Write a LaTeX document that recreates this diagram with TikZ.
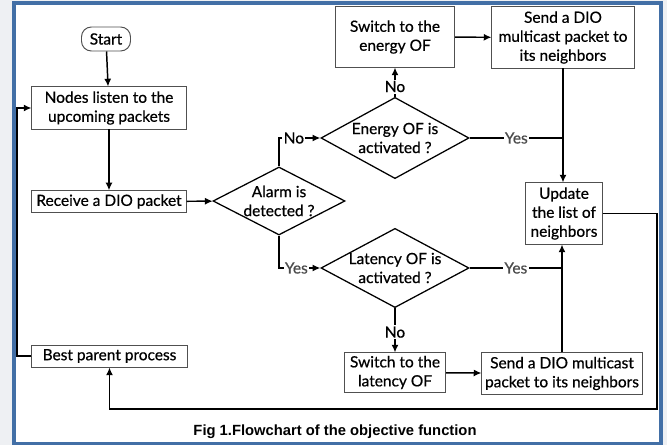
\documentclass[tikz,border=0pt]{standalone}
\usepackage{fontspec}
\setmainfont{Lato}[FakeBold=0.6]
\newfontfamily\capfont{Liberation Sans}
\usetikzlibrary{shapes.geometric,arrows.meta}

\definecolor{frameblue}{RGB}{66,111,166}
\definecolor{pagegray}{RGB}{238,240,243}
\definecolor{boxgray}{RGB}{80,80,80}

\tikzset{
  box/.style={draw=boxgray, line width=0.7pt, fill=white, align=center, inner sep=1pt,
    font=\fontsize{11}{13.5}\selectfont},
  startbox/.style={box, rounded corners=7pt},
  cond/.style={diamond, draw, line width=0.9pt, inner sep=0pt},
  flow/.style={line width=1.05pt, -{Latex[length=5.5pt,width=5pt]}},
  link/.style={line width=1.05pt},
  lbl/.style={fill=white, inner sep=1pt, font=\fontsize{11}{13.5}\selectfont},
  yeslbl/.style={lbl, text=black!70},
}

\begin{document}
\begin{tikzpicture}[x=0.025cm, y=-0.025cm]
    \useasboundingbox (0,0) rectangle (667,445);
    % 背景与蓝色边框
    \fill[pagegray] (0,0) rectangle (667,445);
    \fill[frameblue] (12,1) rectangle (663,445);
    \fill[white] (16,5) rectangle (659,442);

    % 左列
    \node[startbox, minimum width=1.225cm, minimum height=0.6cm] (start) at (106,39) {Start};
    \node[box, minimum width=3.85cm, minimum height=1.05cm] (listen) at (109,108) {Nodes listen to the\\upcoming packets};
    \node[box, minimum width=3.85cm, minimum height=0.53cm] (receive) at (109,201.5) {Receive a DIO packet};
    \node[box, minimum width=3.875cm, minimum height=0.55cm] (best) at (109.5,356) {Best parent process};

    % 判断
    \node[cond, minimum width=3.3cm, minimum height=1.7cm,
      label={[align=center, font=\fontsize{11}{13.5}\selectfont]center:{Alarm is\\detected ?}}] (alarm) at (279,201) {};
    \node[cond, minimum width=3.7cm, minimum height=2.03cm,
      label={[align=center, font=\fontsize{11}{13.5}\selectfont]center:{Energy OF is\\activated ?}}] (energy) at (395,138) {};
    \node[cond, minimum width=3.7cm, minimum height=1.98cm,
      label={[align=center, font=\fontsize{11}{13.5}\selectfont]center:{Latency OF is\\activated ?}}] (latency) at (395,268) {};

    % 右侧方框
    \node[box, minimum width=2.975cm, minimum height=1.5cm] (swenergy) at (395,37) {Switch to the\\energy OF};
    \node[box, minimum width=3.55cm, minimum height=1.525cm] (sendtop) at (563,37.5) {Send a DIO\\multicast packet to\\its neighbors};
    \node[box, minimum width=1.9cm, minimum height=1.525cm] (update) at (564,213.5) {Update\\the list of\\neighbors};
    \node[box, minimum width=2.525cm, minimum height=0.975cm] (swlat) at (395,372.5) {Switch to the\\latency OF};
    \node[box, minimum width=4.0cm, minimum height=1.025cm] (sendbot) at (562,373.5) {Send a DIO multicast\\packet to its neighbors};

    % 连线
    \draw[flow] (start) -- (listen);
    \draw[flow] (listen) -- (receive);
    \draw[flow] (receive) -- (alarm);
    \draw[flow] (alarm.north) |- node[lbl, pos=0.68] {No} (energy.west);
    \draw[flow] (alarm.south) |- node[yeslbl, pos=0.71] {Yes} (latency.west);
    \draw[flow] (energy.north) -- node[lbl, pos=0.35] {No} (swenergy.south);
    \draw[flow] (swenergy) -- (sendtop);
    \draw[flow] (sendtop.south) -- (sendtop.south |- update.north);
    \draw[link] (energy.east) -- node[yeslbl] {Yes} (energy.east -| sendtop.south);
    \draw[flow] (latency.south) -- node[lbl, pos=0.54] {No} (swlat.north);
    \draw[flow] (swlat) -- (sendbot);
    \draw[flow] (sendbot.north) -- (sendbot.north |- update.south);
    \draw[link] (latency.east) -- node[yeslbl] {Yes} (latency.east -| sendbot.north);

    % 回路
    \coordinate (rcorner) at (657,409);
    \coordinate (lrail) at (17,356);
    \draw[flow] (update.east) -| (rcorner) -| (best.south);
    \draw[flow] (best.west) -- (lrail) |- (listen.west);

    % 标题
    \node[font=\capfont\bfseries\fontsize{10.5}{12}\selectfont] (caption) at (335,432) {Fig 1.Flowchart of the objective function};
\end{tikzpicture}
\end{document}
